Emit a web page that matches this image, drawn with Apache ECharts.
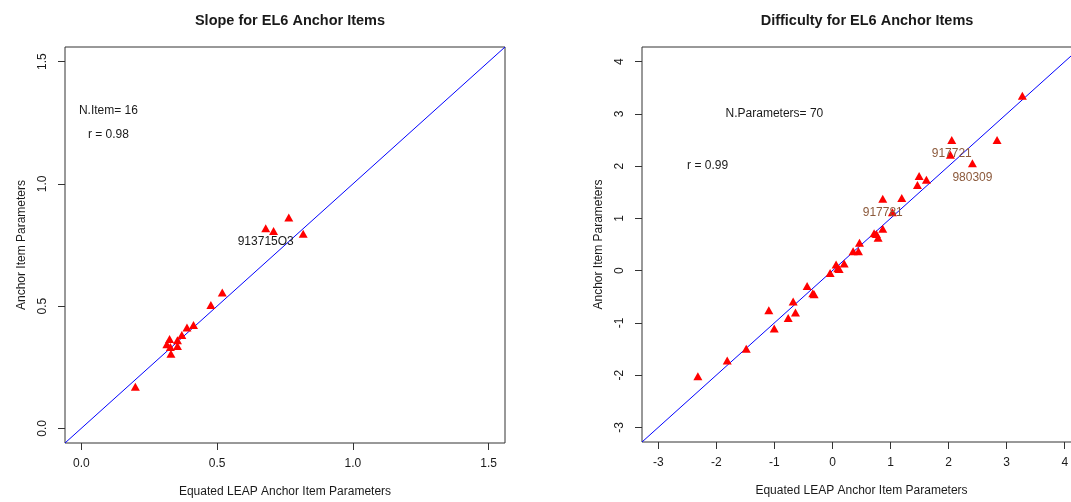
<!DOCTYPE html>
<html>
<head>
<meta charset="utf-8">
<script src="https://cdn.jsdelivr.net/npm/echarts@6/dist/echarts.min.js"></script>
<style>
html,body{margin:0;padding:0;background:#fff;}
#c{width:1071px;height:502px;}
</style>
</head>
<body>
<div id="c"></div>
<script>
// ---- Data: Slope for EL6 Anchor Items ----
const slopeX = [0.199, 0.330, 0.315, 0.325, 0.328, 0.354, 0.354, 0.370, 0.389, 0.413, 0.477, 0.519, 0.679, 0.708, 0.764, 0.817];
const slopeY = [0.170, 0.305, 0.344, 0.365, 0.333, 0.337, 0.360, 0.382, 0.413, 0.423, 0.505, 0.556, 0.819, 0.807, 0.862, 0.796];
const slopeLabelIdx = [12];
const slopeLabelText = ['913715O3'];
const slopeTicks = [0, 0.5, 1.0, 1.5];
const slopeLim = [0, 1.5];

// ---- Data: Difficulty for EL6 Anchor Items ----
const diffX = [-2.318, -1.812, -1.485, -1.096, -1.003, -0.762, -0.677, -0.637, -0.436, -0.339, -0.316, -0.040, 0.063, 0.092, 0.115, 0.201, 0.356, 0.447, 0.465, 0.717, 0.757, 0.786, 0.866, 0.866, 1.033, 1.193, 1.463, 1.492, 1.618, 2.031, 2.054, 2.410, 2.834, 3.270];
const diffY = [-2.020, -1.721, -1.497, -0.757, -1.109, -0.905, -0.593, -0.803, -0.293, -0.432, -0.451, -0.044, 0.115, 0.046, 0.033, 0.134, 0.371, 0.371, 0.535, 0.715, 0.702, 0.631, 0.803, 1.377, 1.117, 1.390, 1.639, 1.811, 1.740, 2.218, 2.500, 2.054, 2.500, 3.347];
const diffLabelIdx = [30, 31, 23];
const diffLabelText = ['917721', '980309', '917781'];
const diffTicks = [-3, -2, -1, 0, 1, 2, 3, 4];
const diffLim = [-3, 4];

// ---- Text ----
const titles = ['Slope for EL6 Anchor Items', 'Difficulty for EL6 Anchor Items'];
const xTitle = 'Equated LEAP Anchor Item Parameters';
const yTitle = 'Anchor Item Parameters';
const slopeNotes = [{x: 0.1, y: 1.3, t: 'N.Item= 16'}, {x: 0.1, y: 1.2, t: 'r = 0.98'}];
const diffNotes = [{x: -1.0, y: 3.0, t: 'N.Parameters= 70'}, {x: -2.15, y: 2.0, t: 'r = 0.99'}];

function ext(lim) { const d = (lim[1] - lim[0]) * 0.04; return [lim[0] - d, lim[1] + d]; }
const sE = ext(slopeLim), dE = ext(diffLim);

const FONT = 'Liberation Sans, Arial, sans-serif';
const TXT = '#1a1a1a';

function mkX(idx, e, ticks, fmt) {
  return {
    type: 'value', gridIndex: idx, min: e[0], max: e[1], position: 'bottom',
    axisLine: {show: false, onZero: false},
    splitLine: {show: false},
    axisTick: {show: true, customValues: ticks, length: 7, lineStyle: {color: '#333', width: 1}},
    axisLabel: {show: true, customValues: ticks, formatter: fmt, margin: 15, fontSize: 12, color: TXT, fontFamily: FONT},
    name: xTitle, nameLocation: 'middle', nameGap: 43,
    nameTextStyle: {fontSize: 12, color: TXT, fontFamily: FONT}
  };
}
function mkY(idx, e, ticks, fmt) {
  return {
    type: 'value', gridIndex: idx, min: e[0], max: e[1], position: 'left',
    axisLine: {show: false, onZero: false},
    splitLine: {show: false},
    axisTick: {show: true, customValues: ticks, length: 7, lineStyle: {color: '#333', width: 1}},
    axisLabel: {show: true, customValues: ticks, formatter: fmt, rotate: 90, margin: 16, fontSize: 12, color: TXT, fontFamily: FONT},
    name: yTitle, nameLocation: 'middle', nameGap: 37,
    nameTextStyle: {fontSize: 12, color: TXT, fontFamily: FONT}
  };
}

function pts(xs, ys) { return xs.map((x, i) => [x, ys[i]]); }
function labelPts(xs, ys, idx, txt) { return idx.map((k, i) => ({value: [xs[k], ys[k]], name: txt[i]})); }
function notes(arr) { return arr.map(n => ({value: [n.x, n.y], name: n.t})); }

const redTri = {type: 'scatter', symbol: 'triangle', symbolSize: [9, 8], itemStyle: {color: '#ff0000', opacity: 1}, z: 5, emphasis: {disabled: true}};
const hidden = {color: 'rgba(0,0,0,0)', opacity: 1};

const option = {
  backgroundColor: '#fff',
  animation: false,
  title: [
    {text: titles[0], left: 285, top: 8, textAlign: 'center', textStyle: {fontSize: 14.5, fontWeight: 'bold', color: TXT, fontFamily: FONT}},
    {text: titles[1], left: 862, top: 8, textAlign: 'center', textStyle: {fontSize: 14.5, fontWeight: 'bold', color: TXT, fontFamily: FONT}}
  ],
  grid: [
    {left: 65, top: 47, width: 440, height: 396, show: true, borderColor: '#333', borderWidth: 1, backgroundColor: 'transparent', outerBoundsMode: 'none', containLabel: false},
    {left: 642, top: 47, width: 439, height: 395, show: true, borderColor: '#333', borderWidth: 1, backgroundColor: 'transparent', outerBoundsMode: 'none', containLabel: false}
  ],
  xAxis: [mkX(0, sE, slopeTicks, v => v.toFixed(1)), mkX(1, dE, diffTicks, v => String(v))],
  yAxis: [mkY(0, sE, slopeTicks, v => v.toFixed(1)), mkY(1, dE, diffTicks, v => String(v))],
  series: [
    {type: 'line', xAxisIndex: 0, yAxisIndex: 0, data: [[sE[0], sE[0]], [sE[1], sE[1]]], symbol: 'none', lineStyle: {color: '#0000ff', width: 1}, z: 3},
    {type: 'line', xAxisIndex: 1, yAxisIndex: 1, data: [[dE[0], dE[0]], [dE[1], dE[1]]], symbol: 'none', lineStyle: {color: '#0000ff', width: 1}, z: 3},
    Object.assign({}, redTri, {xAxisIndex: 0, yAxisIndex: 0, data: pts(slopeX, slopeY)}),
    Object.assign({}, redTri, {xAxisIndex: 1, yAxisIndex: 1, data: pts(diffX, diffY)}),
    {type: 'scatter', xAxisIndex: 0, yAxisIndex: 0, symbolSize: 8, itemStyle: hidden, z: 6, emphasis: {disabled: true},
     data: labelPts(slopeX, slopeY, slopeLabelIdx, slopeLabelText),
     label: {show: true, position: 'bottom', distance: 4, formatter: p => p.name, fontSize: 12, color: TXT, fontFamily: FONT}},
    {type: 'scatter', xAxisIndex: 1, yAxisIndex: 1, symbolSize: 8, itemStyle: hidden, z: 6, emphasis: {disabled: true},
     data: labelPts(diffX, diffY, diffLabelIdx, diffLabelText),
     label: {show: true, position: 'bottom', distance: 4, formatter: p => p.name, fontSize: 12, color: '#8c5a3c', fontFamily: FONT}},
    {type: 'scatter', xAxisIndex: 0, yAxisIndex: 0, symbolSize: 1, itemStyle: hidden, z: 6, emphasis: {disabled: true}, data: notes(slopeNotes),
     label: {show: true, position: 'inside', formatter: p => p.name, fontSize: 12, color: TXT, fontFamily: FONT}},
    {type: 'scatter', xAxisIndex: 1, yAxisIndex: 1, symbolSize: 1, itemStyle: hidden, z: 6, emphasis: {disabled: true}, data: notes(diffNotes),
     label: {show: true, position: 'inside', formatter: p => p.name, fontSize: 12, color: TXT, fontFamily: FONT}}
  ]
};
const chart = echarts.init(document.getElementById('c'), null, {renderer: 'canvas'});
chart.setOption(option);
</script>
</body>
</html>
